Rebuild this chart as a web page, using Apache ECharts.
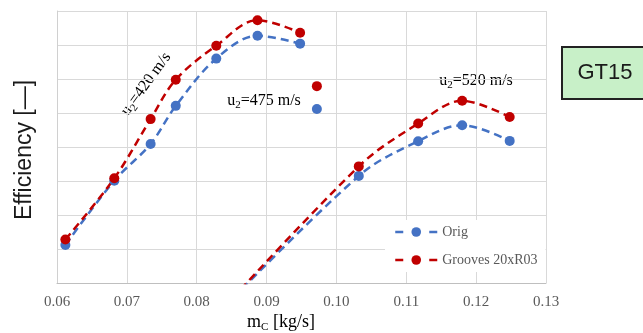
<!DOCTYPE html>
<html>
<head>
<meta charset="utf-8">
<script src="https://cdn.jsdelivr.net/npm/echarts@6/dist/echarts.min.js"></script>
<style>
html,body{margin:0;padding:0;background:#fff;}
#chart{width:643px;height:333px;}
</style>
</head>
<body>
<div id="chart"></div>
<script>
// Mass flow (kg/s) and efficiency (in grid units; y labels are not shown on the original)
const xTicks = [0.06, 0.07, 0.08, 0.09, 0.10, 0.11, 0.12, 0.13];

const orig420 = [[0.0612,1.12],[0.0682,3.01],[0.0734,4.09],[0.0770,5.21],[0.0828,6.60],[0.0887,7.27],[0.0948,7.04]];
const groove420 = [[0.0612,1.28],[0.0682,3.08],[0.0734,4.82],[0.0770,5.98],[0.0828,6.98],[0.0887,7.73],[0.0948,7.36]];

const orig475 = [[0.0972,5.12]];
const groove475 = [[0.0972,5.79]];

const orig520 = [[0.0800,-1.55],[0.1032,3.15],[0.1117,4.17],[0.1180,4.64],[0.1248,4.18]];
const groove520 = [[0.0800,-1.60],[0.1032,3.43],[0.1117,4.69],[0.1180,5.36],[0.1248,4.88]];

const BLUE = '#4472C4', RED = '#C00000';
const SERIF = "'Liberation Serif', 'DejaVu Serif', serif";
const SANS = "'Liberation Sans', Arial, sans-serif";

function mk(name, data, color) {
  return {
    name: name, type: 'line', data: data, smooth: 0.35,
    symbol: 'circle', symbolSize: 10, clip: true,
    itemStyle: {color: color},
    lineStyle: {color: color, width: 2.5, type: [8, 5]},
    animation: false
  };
}

const chart = echarts.init(document.getElementById('chart'), null, {renderer: 'canvas'});
const richA = {
  a: {fontFamily: SERIF, fontSize: 16, color: '#1a1a1a', lineHeight: 18},
  s: {fontFamily: SERIF, fontSize: 11, color: '#1a1a1a', lineHeight: 18, padding: [9, 0, 0, 0]}
};
chart.setOption({
  animation: false,
  grid: {left: 57, right: 97, top: 11, bottom: 50},
  xAxis: {
    type: 'value', min: xTicks[0], max: xTicks[xTicks.length - 1], interval: 0.01,
    axisLine: {show: true, lineStyle: {color: '#bfbfbf', width: 1}},
    axisTick: {show: false},
    splitLine: {show: true, lineStyle: {color: '#d9d9d9', width: 1}},
    axisLabel: {formatter: v => v.toFixed(2), fontFamily: SERIF, fontSize: 15, color: '#595959', margin: 12}
  },
  yAxis: {
    type: 'value', min: 0, max: 8, interval: 1,
    axisLine: {show: true, lineStyle: {color: '#d0d0d0', width: 1}},
    axisTick: {show: false},
    axisLabel: {show: false},
    splitLine: {show: true, lineStyle: {color: '#d9d9d9', width: 1}}
  },
  legend: {
    data: ['Orig', 'Grooves 20xR03'],
    orient: 'vertical', left: 385, top: 220,
    itemWidth: 42, itemHeight: 12, itemGap: 14,
    padding: [5, 8, 5, 9],
    backgroundColor: '#ffffff',
    lineStyle: {type: [8, 26], width: 2.5},
    textStyle: {fontFamily: SERIF, fontSize: 14, color: '#595959'}
  },
  series: [
    mk('Orig', orig420, BLUE),
    mk('Orig', orig475, BLUE),
    mk('Orig', orig520, BLUE),
    mk('Grooves 20xR03', groove420, RED),
    mk('Grooves 20xR03', groove475, RED),
    mk('Grooves 20xR03', groove520, RED)
  ],
  graphic: [
    {type: 'text', x: 25, y: 150, rotation: Math.PI / 2,
     style: {text: 'Efficiency [\u2014]', fontFamily: SANS, fontSize: 23, fill: '#1a1a1a', align: 'center', verticalAlign: 'middle'}},
    {type: 'text', x: 281, y: 322,
     style: {text: '{a|m}{s|C}{a| [kg/s]}', rich: {
       a: {fontFamily: SERIF, fontSize: 18, color: '#404040', lineHeight: 20},
       s: {fontFamily: SERIF, fontSize: 11, color: '#404040', lineHeight: 20, padding: [10, 0, 0, 0]}},
       align: 'center', verticalAlign: 'middle'}},
    {type: 'text', x: 146, y: 84, rotation: 54 * Math.PI / 180,
     style: {text: '{a|u}{s|2}{a|=420 m/s}', rich: richA, align: 'center', verticalAlign: 'middle'}},
    {type: 'text', x: 264, y: 101,
     style: {text: '{a|u}{s|2}{a|=475 m/s}', rich: richA, align: 'center', verticalAlign: 'middle'}},
    {type: 'text', x: 476, y: 81,
     style: {text: '{a|u}{s|2}{a|=520 m/s}', rich: richA, align: 'center', verticalAlign: 'middle'}},
    {type: 'rect', shape: {x: 562, y: 47, width: 90, height: 52},
     style: {fill: '#c8f0c8', stroke: '#222222', lineWidth: 2}},
    {type: 'text', x: 605, y: 73,
     style: {text: 'GT15', fontFamily: SANS, fontSize: 22, fill: '#1a1a1a', align: 'center', verticalAlign: 'middle'}}
  ]
});
</script>
</body>
</html>
